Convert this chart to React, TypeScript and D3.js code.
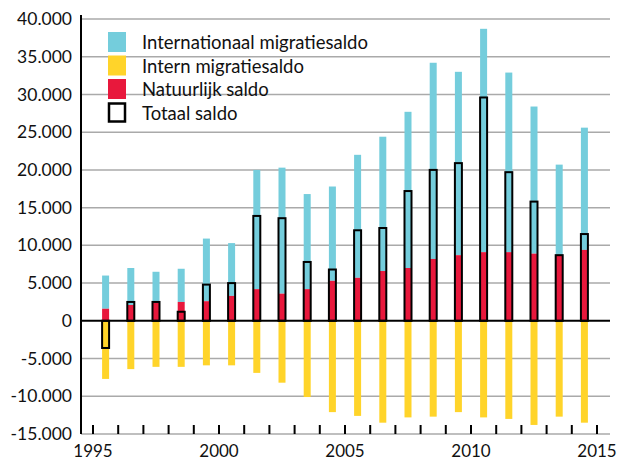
import React from 'react';
import { scaleLinear, scaleBand, range } from 'd3';

const years = range(1995, 2015);
const natuurlijk = [1600, 2100, 2400, 2500, 2600, 3300, 4200, 3600, 4200, 5300, 5700, 6600, 7000, 8200, 8700, 9100, 9100, 8900, 8700, 9400];
const internationaal = [4400, 4900, 4100, 4400, 8300, 7000, 15800, 16700, 12600, 12500, 16300, 17800, 20700, 26000, 24300, 29600, 23800, 19500, 12000, 16200];
const intern = [-7700, -6400, -6100, -6100, -5900, -5900, -6900, -8200, -10100, -12100, -12600, -13500, -12800, -12700, -12100, -12800, -13000, -13800, -12700, -13500];
const totaal = [-3600, 2500, 2500, 1200, 4800, 5000, 13900, 13600, 7800, 6800, 12000, 12300, 17200, 20000, 20900, 29600, 19700, 15800, 8700, 11500];
const yTicks = range(-15000, 40001, 5000);
const xLabels = [1995, 2000, 2005, 2010, 2015];
const legend = ['Internationaal migratiesaldo', 'Intern migratiesaldo', 'Natuurlijk saldo', 'Totaal saldo'];

const colors = { intl: '#74cddc', intern: '#ffd42a', nat: '#e8183c' };
const font = 'Lato, "Open Sans", sans-serif';

const left = 81, right = 610, top = 19, bottom = 434;
const barW = 7;

function App() {
  const y = scaleLinear().domain([-15000, 40000]).range([bottom, top]);
  const xLin = scaleLinear().domain([1995, 2015]).range([93, 597]);
  const x = scaleBand<number>().domain(years).range([93, 597]);
  const cx = (yr: number) => x(yr)! + x.bandwidth() / 2;
  const fmt = (v: number) => (v === 0 ? '0' : (v < 0 ? '-' : '') + Math.abs(v / 1000) + '.000');

  return (
    <svg width={618} height={461} style={{ position: 'absolute', left: 0, top: 0 }} fontFamily={font}>
      {yTicks.map(t => (
        <g key={t}>
          {t !== 0 && <line x1={left} x2={right} y1={y(t)} y2={y(t)} stroke="#aaa" strokeWidth={1.5} />}
          <text x={72} y={y(t)} dy="0.35em" textAnchor="end" fontSize={17.5} fill="#111">{fmt(t)}</text>
        </g>
      ))}
      {years.map((yr, i) => (
        <g key={yr}>
          <rect x={cx(yr) - barW / 2} y={y(natuurlijk[i] + internationaal[i])} width={barW}
            height={y(natuurlijk[i]) - y(natuurlijk[i] + internationaal[i])} fill={colors.intl} />
          <rect x={cx(yr) - barW / 2} y={y(natuurlijk[i])} width={barW}
            height={y(0) - y(natuurlijk[i])} fill={colors.nat} />
          <rect x={cx(yr) - barW / 2} y={y(0)} width={barW}
            height={y(intern[i]) - y(0)} fill={colors.intern} />
          <rect x={cx(yr) - barW / 2} y={y(Math.max(0, totaal[i]))} width={barW}
            height={Math.abs(y(totaal[i]) - y(0))} fill="none" stroke="#000" strokeWidth={2} />
        </g>
      ))}
      <line x1={left} x2={right} y1={y(0)} y2={y(0)} stroke="#000" strokeWidth={2} />
      <line x1={left} x2={left} y1={top - 4} y2={bottom} stroke="#000" strokeWidth={2} />
      {range(1995, 2016).map(yr => (
        <line key={yr} x1={xLin(yr)} x2={xLin(yr)} y1={bottom - 9} y2={bottom} stroke="#000" strokeWidth={2} />
      ))}
      {xLabels.map(yr => (
        <text key={yr} x={xLin(yr)} y={457} textAnchor="middle" fontSize={17} fill="#111">{yr}</text>
      ))}
      {legend.map((name, i) => {
        const ly = 32 + i * 23.5;
        const fill = [colors.intl, colors.intern, colors.nat, 'none'][i];
        return (
          <g key={name}>
            {i < 3
              ? <rect x={108} y={ly} width={18} height={20} fill={fill} />
              : <rect x={109} y={ly + 1} width={16} height={18} fill="#fff" stroke="#000" strokeWidth={2.5} />}
            <text x={142} y={ly + 17} fontSize={18.5} fill="#111">{name}</text>
          </g>
        );
      })}
    </svg>
  );
}

export default App;
